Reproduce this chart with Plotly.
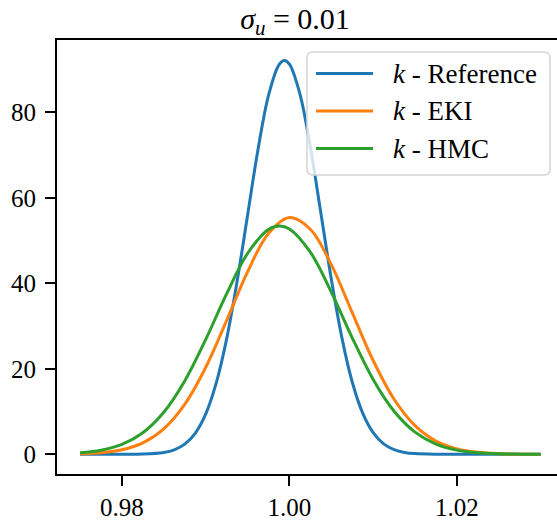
import plotly.graph_objects as go

# Values (density curves)
ref_x = [0.975, 0.9775, 0.98, 0.9825, 0.985, 0.98625, 0.9875, 0.98875, 0.99, 0.99125,
         0.9925, 0.99375, 0.995, 0.99625, 0.9975, 0.99875, 0.9994, 1.0, 1.00125, 1.0025,
         1.00375, 1.005, 1.00625, 1.0075, 1.00875, 1.01, 1.01125, 1.0125, 1.01375, 1.015,
         1.0175, 1.02, 1.0225, 1.025, 1.0275, 1.03]
ref_y = [0.0, 0.0, 0.01, 0.06, 0.44, 1.06, 2.38, 4.92, 9.40, 16.58,
         26.95, 40.40, 55.86, 71.28, 83.91, 91.10, 92.10, 91.24, 84.31, 71.86,
         56.50, 40.98, 27.42, 16.92, 9.63, 5.06, 2.45, 1.10, 0.45, 0.17,
         0.02, 0.0, 0.0, 0.0, 0.0, 0.0]

grid_x = [0.975, 0.9775, 0.98, 0.9825, 0.985, 0.9875, 0.99, 0.9925, 0.995, 0.9975,
          1.0, 1.0025, 1.005, 1.0075, 1.01, 1.0125, 1.015, 1.0175, 1.02, 1.0225,
          1.025, 1.0275, 1.03]
eki_y = [0.12, 0.38, 1.08, 2.70, 5.97, 11.69, 20.31, 31.27, 42.68, 51.64,
         55.38, 52.65, 44.36, 33.14, 21.94, 12.88, 6.70, 3.09, 1.26, 0.46,
         0.15, 0.04, 0.01]

hmc_x = [0.975, 0.9775, 0.98, 0.9825, 0.985, 0.9875, 0.99, 0.9925, 0.995, 0.9975,
         0.9988, 1.0, 1.0025, 1.005, 1.0075, 1.01, 1.0125, 1.015, 1.0175, 1.02,
         1.0225, 1.025, 1.0275, 1.03]
hmc_y = [0.35, 0.95, 2.31, 5.04, 9.83, 17.16, 26.83, 37.52, 46.97, 52.60,
         53.40, 52.72, 47.28, 37.95, 27.25, 17.51, 10.07, 5.18, 2.39, 0.98,
         0.36, 0.12, 0.04, 0.01]

names = ["<i>k</i> - Reference", "<i>k</i> - EKI", "<i>k</i> - HMC"]
colors = ["#1f77b4", "#ff7f0e", "#2ca02c"]
x_ticks = [0.98, 1.00, 1.02]
x_tick_text = ["0.98", "1.00", "1.02"]
y_ticks = [0, 20, 40, 60, 80]
title_text = "<i>σ</i><sub><i>u</i></sub> = 0.01"

FONT = "Liberation Serif"
W, H = 557, 521
L, T, B = 57, 40, 47
PW, PH = W - L, H - T - B


def px_x(p):
    return (p - L) / PW


def px_y(p):
    return 1 - (p - T) / PH


fig = go.Figure()
for xs, ys, nm, c in zip([ref_x, grid_x, hmc_x], [ref_y, eki_y, hmc_y], names, colors):
    fig.add_trace(go.Scatter(x=xs, y=ys, mode="lines", name=nm, showlegend=False,
                             line=dict(color=c, width=3, shape="spline", smoothing=1.0)))

# legend box (rounded, semi-transparent like matplotlib)
x0, x1, y0, y1 = px_x(307), px_x(550), px_y(175), px_y(52)
rx, ry = 6 / PW, 6 / PH
path = (f"M{x0+rx},{y1} L{x1-rx},{y1} Q{x1},{y1} {x1},{y1-ry} L{x1},{y0+ry} "
        f"Q{x1},{y0} {x1-rx},{y0} L{x0+rx},{y0} Q{x0},{y0} {x0},{y0+ry} "
        f"L{x0},{y1-ry} Q{x0},{y1} {x0+rx},{y1} Z")
shapes = [dict(type="path", path=path, xref="paper", yref="paper", layer="above",
               fillcolor="rgba(255,255,255,0.8)", line=dict(color="#d5d5d5", width=1.5))]
annotations = []
row_y = [73.5, 111, 148.5]
for nm, c, ry_px in zip(names, colors, row_y):
    yy = px_y(ry_px)
    shapes.append(dict(type="line", xref="paper", yref="paper", layer="above",
                       x0=px_x(316), x1=px_x(373), y0=yy, y1=yy,
                       line=dict(color=c, width=3)))
    annotations.append(dict(text=nm, xref="paper", yref="paper", x=px_x(391), y=yy,
                            xanchor="left", yanchor="middle", showarrow=False,
                            font=dict(family=FONT, size=27, color="black")))

fig.update_layout(
    width=W, height=H,
    margin=dict(l=L, r=0, t=T, b=B, pad=0),
    paper_bgcolor="white", plot_bgcolor="white",
    font=dict(family=FONT, size=25, color="black"),
    title=dict(text=title_text, x=295 / W, xref="container",
               xanchor="center", y=1 - 18 / H, yref="container", yanchor="middle",
               font=dict(family=FONT, size=30, color="black")),
    showlegend=False,
    shapes=shapes, annotations=annotations,
)
fig.update_xaxes(range=[0.97225, 1.03195], tickvals=x_ticks, ticktext=x_tick_text,
                 showgrid=False, zeroline=False, showline=True, linecolor="black",
                 linewidth=2, mirror=True, ticks="outside", ticklen=10, tickwidth=2,
                 tickcolor="black", automargin=False)
fig.update_yaxes(range=[-4.6, 96.9], tickvals=y_ticks,
                 showgrid=False, zeroline=False, showline=True, linecolor="black",
                 linewidth=2, mirror=False, ticks="outside", ticklen=10, tickwidth=2,
                 tickcolor="black", automargin=False, ticklabelstandoff=4)

fig.write_html("out.html", config={"displayModeBar": False},
               post_script="document.body.style.margin='0px';")
